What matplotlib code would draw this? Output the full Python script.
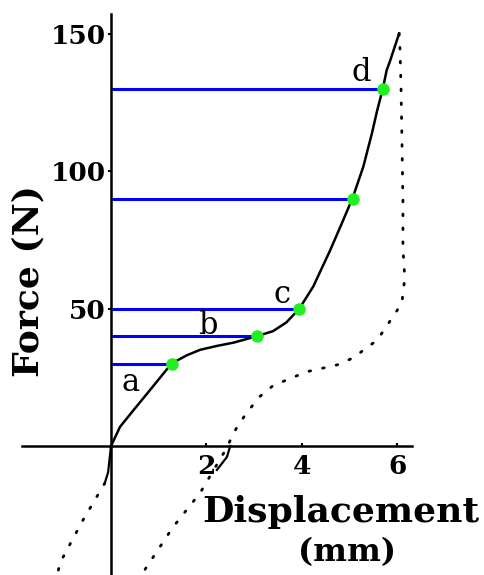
import numpy as np
import matplotlib
matplotlib.use("Agg")
import matplotlib.pyplot as plt

# loading curve (solid)
load_x = [0, 0.19, 0.47, 0.82, 1.27, 1.59, 1.87, 2.22, 2.57, 3.07, 3.4, 3.68, 3.95, 4.24, 4.59, 4.84, 5.07, 5.29, 5.47, 5.58, 5.7, 5.78, 5.85, 6.04]
load_f = [0, 7, 13, 20.4, 30, 33, 35, 36.4, 37.6, 40, 41.8, 45, 50, 58, 71, 81, 90.4, 101.6, 113.7, 122, 130, 136.7, 140, 150]

# unloading curve (dotted)
unload_x = [6.04, 6.06, 6.08, 6.1, 6.12, 6.12, 6.16, 6.12, 6.1, 5.91, 5.58, 5.07, 4.74, 4.1, 3.82, 3.4, 3.12, 2.84, 2.63, 2.53, 2.45, 1.87, 1.3, 0.67, 0.62]
unload_f = [150, 144, 130.5, 111, 89.5, 72, 61, 55.6, 52, 47, 38.5, 32, 29.5, 27, 25, 22, 18, 12, 6.5, 3.4, 0, -17, -29.5, -46, -47]

# dotted tail left of the origin
tail_x = [-0.13, -0.59, -1.07, -1.12]
tail_f = [-13.5, -27, -42.5, -46.5]

# short solid hooks
hook0_x = [0, -0.06, -0.13]
hook0_f = [0, -9.5, -13.5]
hook2_x = [2.22, 2.43, 2.5]
hook2_f = [-8.7, -4, 0]

# marked points and their horizontal guides
pt_x = [1.27, 3.07, 3.95, 5.07, 5.7]
pt_f = [30, 40, 50, 90, 130]

labels = ['a', 'b', 'c', 'd']
label_x = [0.4, 2.03, 3.58, 5.24]
label_f = [23, 44, 55, 136]

fig = plt.figure(figsize=(4.84, 5.75), dpi=100)
ax = fig.add_axes([0, 0, 1, 1])
ax.set_xlim(-2.327, 7.82)
ax.set_ylim(-46.9, 162.2)
ax.patch.set_alpha(0)

for s in ['top', 'right']:
    ax.spines[s].set_visible(False)
ax.spines['left'].set_position(('data', 0))
ax.spines['bottom'].set_position(('data', 0))
ax.spines['left'].set_bounds(-47, 157)
ax.spines['bottom'].set_bounds(-1.87, 6.31)
ax.spines['left'].set_linewidth(1.8)
ax.spines['bottom'].set_linewidth(1.8)

ax.set_xticks([2, 4, 6])
ax.set_yticks([50, 100, 150])
ax.tick_params(axis='both', direction='out', length=2, width=1.5, labelsize=19)
ax.tick_params(axis='x', direction='in', pad=6)
ax.tick_params(axis='y', pad=2)
for lab in ax.get_xticklabels() + ax.get_yticklabels():
    lab.set_fontfamily('DejaVu Serif')
    lab.set_fontweight('bold')

# guides
for x, f in zip(pt_x, pt_f):
    ax.plot([0, x], [f, f], color='#0000ff', lw=2.2, solid_capstyle='butt', zorder=2)

ax.plot(unload_x, unload_f, color='black', lw=2, linestyle=(0, (0.6, 4.4)),
        dash_capstyle='round', zorder=3)
ax.plot(tail_x, tail_f, color='black', lw=2, linestyle=(0, (0.6, 4.4)),
        dash_capstyle='round', zorder=3)
ax.plot(load_x, load_f, color='black', lw=1.8, zorder=4)
ax.plot(hook0_x, hook0_f, color='black', lw=1.6, zorder=4)
ax.plot(hook2_x, hook2_f, color='black', lw=1.6, zorder=4)

ax.plot(pt_x, pt_f, 'o', color='#22ee22', ms=8, zorder=5)

for t, x, f in zip(labels, label_x, label_f):
    ax.text(x, f, t, fontsize=22, family='DejaVu Serif', ha='center', va='center')

ax.text(4.81, -27.6, 'Displacement', fontsize=26, family='DejaVu Serif',
        fontweight='bold', ha='center', va='baseline')
ax.text(4.95, -42, '(mm)', fontsize=23, family='DejaVu Serif',
        fontweight='bold', ha='center', va='baseline')
ax.text(-1.74, 60, 'Force (N)', fontsize=26, family='DejaVu Serif',
        fontweight='bold', ha='center', va='center', rotation=90)

fig.savefig('out.png', dpi=100)
